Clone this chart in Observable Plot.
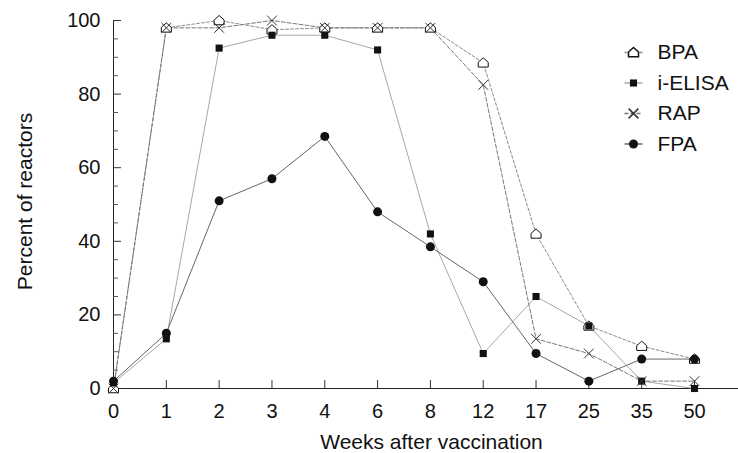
<!DOCTYPE html>
<html><head><meta charset="utf-8">
<script src="https://cdn.jsdelivr.net/npm/d3@7"></script>
<script src="https://cdn.jsdelivr.net/npm/@observablehq/plot@0.6"></script>
<style>body{margin:0;background:#fff} #chart svg{display:block}</style>
</head><body><div id="chart"></div>
<script>
// ---- data ----
const weeks = ["0","1","2","3","4","6","8","12","17","25","35","50"];
const seriesNames = ["BPA","i-ELISA","RAP","FPA"];
const bpa    = [0, 98, 100, 97.5, 98, 98, 98, 88.5, 42, 17, 11.5, 8];
const ielisa = [1.5, 13.5, 92.5, 96, 96, 92, 42, 9.5, 25, 17, 2, 0];
const rap    = [0, 98, 98, 100, 98, 98, 98, 82.5, 13.5, 9.5, 2, 2];
const fpa    = [2, 15, 51, 57, 68.5, 48, 38.5, 29, 9.5, 2, 8, 8];
const yMajorTicks = [0, 20, 40, 60, 80, 100];
const yMinorTicks = [5, 10, 15, 25, 30, 35, 45, 50, 55, 65, 70, 75, 85, 90, 95];
const xTitle = "Weeks after vaccination";
const yTitle = "Percent of reactors";

const valuesBySeries = {"BPA": bpa, "i-ELISA": ielisa, "RAP": rap, "FPA": fpa};
const rows = seriesNames.flatMap(s => weeks.map((w, i) => ({series: s, week: w, value: valuesBySeries[s][i]})));

// ---- symbols and styles ----
const house = {draw(ctx, size) {
  const r = Math.sqrt(size / Math.PI);
  ctx.moveTo(-r, 0.85 * r); ctx.lineTo(r, 0.85 * r); ctx.lineTo(r, -0.1 * r);
  ctx.lineTo(0, -r); ctx.lineTo(-r, -0.1 * r); ctx.closePath();
}};
const hline = {draw(ctx) { ctx.moveTo(-9, 0); ctx.lineTo(9, 0); }};

const styles = {
  "BPA":     {symbol: house,    r: 5,   fill: "white", stroke: "#111", line: "#8c8c8c", dash: "3,2"},
  "i-ELISA": {symbol: "square", r: 4,   fill: "#111",  stroke: "none", line: "#a8a8a8", dash: null},
  "RAP":     {symbol: "times",  r: 4.5, fill: "none",  stroke: "#333", line: "#777",    dash: "4,2"},
  "FPA":     {symbol: "circle", r: 4.5, fill: "#111",  stroke: "none", line: "#666",    dash: null}
};

const marks = [];
// axis lines
marks.push(Plot.ruleY([0], {stroke: "#222", strokeWidth: 1}));
marks.push(Plot.ruleX([weeks[0]], {stroke: "#222", strokeWidth: 1}));
// inward ticks (negative tick size points into the frame)
marks.push(Plot.axisY({ticks: yMajorTicks, tickSize: -8, tickFormat: () => "", label: null, stroke: "#333"}));
marks.push(Plot.axisY({ticks: yMinorTicks, tickSize: -5, tickFormat: () => "", label: null, stroke: "#555"}));
marks.push(Plot.axisX({tickSize: -8, tickFormat: () => "", label: null, stroke: "#333"}));
// tick labels
marks.push(Plot.axisX({tickSize: 0, tickPadding: 15, fontSize: 20, label: null}));
marks.push(Plot.axisY({ticks: yMajorTicks, tickSize: 0, tickPadding: 13, fontSize: 20, label: null}));

// lines
for (const s of seriesNames) {
  const st = styles[s];
  marks.push(Plot.line(rows.filter(d => d.series === s), {x: "week", y: "value", stroke: st.line, strokeWidth: 1, strokeDasharray: st.dash ?? undefined}));
}
// markers
for (const s of seriesNames) {
  const st = styles[s];
  marks.push(Plot.dot(rows.filter(d => d.series === s), {x: "week", y: "value", symbol: st.symbol, r: st.r, fill: st.fill, stroke: st.stroke, strokeWidth: 1}));
}
// legend (inside plot, top right)
seriesNames.forEach((s, i) => {
  const st = styles[s];
  const dy = 32 + i * 30.5;
  marks.push(Plot.dot([s], {frameAnchor: "top-left", dx: 520, dy, symbol: hline, r: 1, fill: "none", stroke: st.line, strokeDasharray: st.dash ?? undefined}));
  marks.push(Plot.dot([s], {frameAnchor: "top-left", dx: 520, dy, symbol: st.symbol, r: st.r, fill: st.fill, stroke: st.stroke}));
  marks.push(Plot.text([s], {frameAnchor: "top-left", dx: 544, dy, text: d => d, textAnchor: "start", lineAnchor: "middle", fontSize: 21, fill: "#111"}));
});
// titles
marks.push(Plot.text([xTitle], {frameAnchor: "bottom", dx: 5.5, dy: 53.5, text: d => d, textAnchor: "middle", lineAnchor: "middle", fontSize: 21, fill: "#111"}));
marks.push(Plot.text([yTitle], {frameAnchor: "left", dx: -88, dy: -3, rotate: -90, text: d => d, textAnchor: "middle", lineAnchor: "middle", fontSize: 21, fill: "#111"}));

const chart = Plot.plot({
  width: 738, height: 453,
  marginLeft: 113, marginRight: 0, marginTop: 20, marginBottom: 65,
  x: {type: "point", domain: weeks, range: [113, 694], padding: 0, round: false},
  y: {domain: [0, 100]},
  style: {fontFamily: "Arial, 'Liberation Sans', sans-serif", fontSize: "20px", color: "#111", background: "white"},
  marks
});
document.getElementById("chart").append(chart);
</script>
</body></html>
